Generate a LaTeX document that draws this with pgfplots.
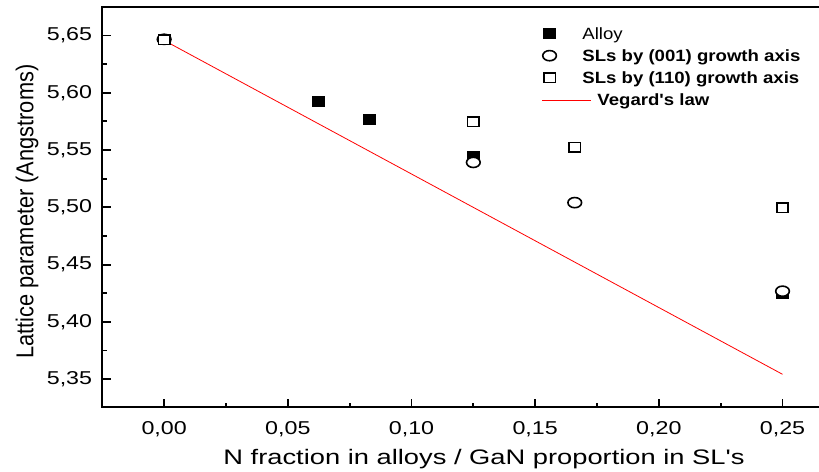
\documentclass[border=0pt]{standalone}
\usepackage{fontspec}
\setmainfont{Liberation Sans}[FakeStretch=1.25]
\newfontfamily\legfont{Liberation Sans}[FakeStretch=1.14]
\newfontfamily\xlabfont{Liberation Sans}[FakeStretch=1.3]
\newfontfamily\ylabfont{Liberation Sans}
\usepackage{graphicx}
\usepackage{pgfplots}
\pgfplotsset{compat=1.18}
\pgfplotsset{
  markleg/.style={legend image code/.code={\path (0pt,0pt) (40pt,0pt); \draw[##1, only marks] plot coordinates {(7.5pt,0pt)};}},
  lineleg/.style={legend image code/.code={\path (0pt,0pt) (40pt,0pt); \draw[##1, overlay] (0pt,0pt) -- (49.3pt,0pt);}},
}
\begin{document}
\begin{tikzpicture}
\begin{axis}[
  scale only axis,
  width=761.9pt, height=400pt,
  xmin=-0.025, xmax=0.283,
  ymin=5.3255, ymax=5.6745,
  xtick={0,0.05,0.10,0.15,0.20,0.25},
  ytick={5.35,5.40,5.45,5.50,5.55,5.60,5.65},
  minor x tick num=1, minor y tick num=1,
  xtick pos=bottom, ytick pos=left,
  tick align=inside,
  major tick length=8.5pt, minor tick length=4.5pt,
  tick style={line width=1.8pt, black},
  axis line style={line width=2pt},
  /pgf/number format/.cd, fixed, fixed zerofill, precision=2, use comma, assume math mode=true,
  /pgfplots/.cd,
  tick label style={font=\fontsize{18.6}{20}\selectfont, inner sep=0pt},
  xticklabel style={anchor=base, yshift=-27pt},
  yticklabel style={anchor=east, xshift=-10pt},
  xlabel={\xlabfont\fontsize{21}{24}\selectfont N fraction in alloys / GaN proportion in SL's},
  xlabel style={at={(axis description cs:0.501,-0.1425)}, anchor=base, inner sep=0pt},
  ylabel={\ylabfont\fontsize{21.8}{24}\selectfont\scalebox{1}[1.12]{Lattice parameter (Angstroms)}},
  ylabel style={at={(axis description cs:-0.0906,0.489)}, anchor=base, inner sep=0pt},
  legend cell align=left,
  legend style={at={(axis description cs:0.5767,0.9624)}, anchor=north west,
    draw=none, fill=none, inner sep=0pt, outer sep=0pt, column sep=0pt, row sep=0pt,
    font=\legfont\fontsize{16.3}{18}\selectfont,
    nodes={inner sep=0pt, outer sep=0pt, text height=16.95pt, text depth=5.25pt}},
]
\addplot[only marks, mark=square*, mark size=4.75pt, black,
  mark options={xscale=1.21, fill=black, draw=black, line width=1.6pt}, markleg]
  coordinates {(0,5.6466) (0.0625,5.5921) (0.083,5.5764) (0.125,5.5441) (0.25,5.4248)};
\addlegendentry{Alloy}
\addplot[only marks, mark=*, mark size=5.1pt, black,
  mark options={xscale=1.34, fill=white, draw=black, line width=1.6pt}, markleg]
  coordinates {(0,5.6466) (0.125,5.5392) (0.166,5.5041) (0.25,5.4268)};
\addlegendentry{\textbf{SLs by (001) growth axis}}
\addplot[only marks, mark=square*, mark size=4.75pt, black,
  mark options={xscale=1.21, fill=white, draw=black, line width=1.6pt}, markleg]
  coordinates {(0,5.6461) (0.125,5.5747) (0.166,5.5523) (0.25,5.4995)};
\addlegendentry{\textbf{SLs by (110) growth axis}}
\addplot[red, line width=0.8pt, no marks, lineleg]
  coordinates {(0,5.6456) (0.25,5.3543)};
\addlegendentry{\hspace*{15pt}\textbf{Vegard's law}}
\coordinate (bbsw) at (axis cs:-0.06636,5.2697);
\coordinate (bbne) at (axis cs:0.26474,5.6809);
\end{axis}
\pgfresetboundingbox
\path[use as bounding box] (bbsw) rectangle (bbne);
\end{tikzpicture}
\end{document}
